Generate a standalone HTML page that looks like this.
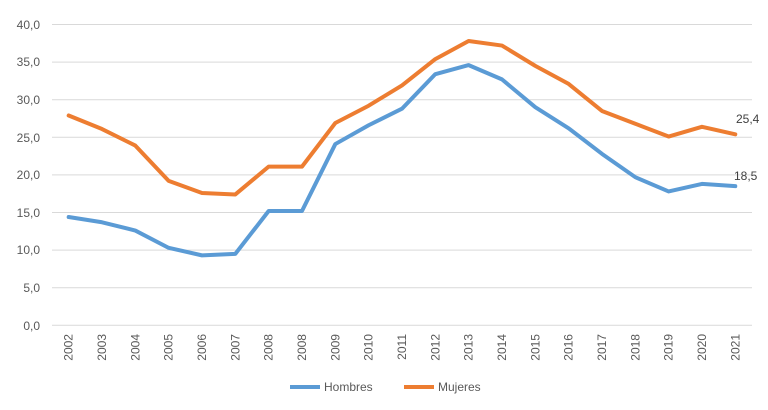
<!DOCTYPE html>
<html><head><meta charset="utf-8"><style>
body{margin:0;background:#fff;}
svg{display:block;font-family:"Liberation Sans",sans-serif;}
</style></head><body>
<svg width="768" height="410" viewBox="0 0 768 410">
<g stroke="#d9d9d9" stroke-width="1">
<line x1="52" x2="752" y1="24.5" y2="24.5"/>
<line x1="52" x2="752" y1="62.1" y2="62.1"/>
<line x1="52" x2="752" y1="99.7" y2="99.7"/>
<line x1="52" x2="752" y1="137.3" y2="137.3"/>
<line x1="52" x2="752" y1="174.9" y2="174.9"/>
<line x1="52" x2="752" y1="212.5" y2="212.5"/>
<line x1="52" x2="752" y1="250.1" y2="250.1"/>
<line x1="52" x2="752" y1="287.7" y2="287.7"/>
<line x1="52" x2="752" y1="325.3" y2="325.3"/>
</g>
<g font-size="12" fill="#595959" text-anchor="end">
<text x="40" y="29">40,0</text><text x="40" y="66">35,0</text><text x="40" y="104">30,0</text>
<text x="40" y="142">25,0</text><text x="40" y="179">20,0</text><text x="40" y="217">15,0</text>
<text x="40" y="254">10,0</text><text x="40" y="292">5,0</text><text x="40" y="330">0,0</text>
</g>
<g font-size="12" fill="#595959" text-anchor="end" id="xl"></g>
<polyline id="h" fill="none" stroke="#5b9bd5" stroke-width="4" stroke-linejoin="round" stroke-linecap="round"/>
<polyline id="m" fill="none" stroke="#ed7d31" stroke-width="4" stroke-linejoin="round" stroke-linecap="round"/>
<text x="736" y="123" font-size="12" fill="#404040">25,4</text>
<text x="734" y="180" font-size="12" fill="#404040">18,5</text>
<line x1="290" x2="320" y1="387" y2="387" stroke="#5b9bd5" stroke-width="4"/>
<text x="324" y="391" font-size="12" fill="#595959">Hombres</text>
<line x1="404" x2="434" y1="387" y2="387" stroke="#ed7d31" stroke-width="4"/>
<text x="438" y="391" font-size="12" fill="#595959">Mujeres</text>
</svg>
<script>
var yrs=["2002","2003","2004","2005","2006","2007","2008","2008","2009","2010","2011","2012","2013","2014","2015","2016","2017","2018","2019","2020","2021"];
var H=[14.4,13.7,12.6,10.3,9.3,9.5,15.2,15.2,24.1,26.6,28.8,33.4,34.6,32.7,29,26.2,22.8,19.7,17.8,18.8,18.5];
var M=[27.9,26.1,23.9,19.2,17.6,17.4,21.1,21.1,26.9,29.2,31.9,35.4,37.8,37.2,34.5,32.1,28.5,26.8,25.1,26.4,25.4];
function X(i){return 52+16.67+i*33.33}
function Y(v){return 325.3-v*7.52}
document.getElementById('h').setAttribute('points',H.map((v,i)=>X(i)+','+Y(v)).join(' '));
document.getElementById('m').setAttribute('points',M.map((v,i)=>X(i)+','+Y(v)).join(' '));
var g=document.getElementById('xl'),s='';
yrs.forEach((y,i)=>{var x=X(i)+4;s+='<text x="'+x+'" y="334" transform="rotate(-90 '+x+' 334)">'+y+'</text>';});
g.innerHTML=s;
</script>
</body></html>
